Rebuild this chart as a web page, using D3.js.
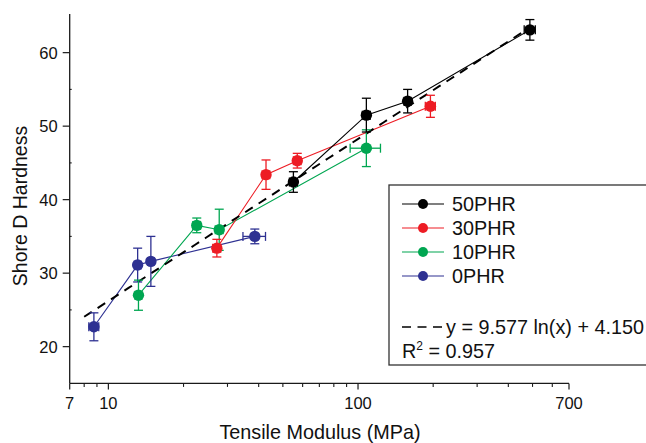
<!DOCTYPE html>
<html>
<head>
<meta charset="utf-8">
<script src="https://cdn.jsdelivr.net/npm/d3@7"></script>
<style>
    body { margin: 0; background: #fff; }
    svg { display: block; font-family: "Liberation Sans", Arial, sans-serif; }
</style>
</head>
<body>
<div id="chart"></div>
<script>
// Series names, in legend order
const seriesNames = ["50PHR", "30PHR", "10PHR", "0PHR"];
const seriesColors = ["#000000", "#ed1c24", "#00a651", "#2e3192"];

// Tensile modulus (MPa) for each series
const modulus50 = [55.1, 108, 158, 488];
const modulus30 = [27.2, 42.8, 57.1, 195];
const modulus10 = [13.2, 22.6, 27.8, 108];
const modulus0 = [8.75, 13.1, 14.8, 38.6];

// Shore D hardness for each series
const hardness50 = [42.4, 51.5, 53.4, 63.1];
const hardness30 = [33.4, 43.4, 45.3, 52.7];
const hardness10 = [27.0, 36.5, 35.9, 47.0];
const hardness0 = [22.7, 31.1, 31.6, 35.0];

// Error on hardness (y)
const hardnessErr50 = [1.4, 2.3, 1.6, 1.4];
const hardnessErr30 = [1.2, 2.0, 1.0, 1.5];
const hardnessErr10 = [2.05, 1.0, 2.8, 2.5];
const hardnessErr0 = [1.9, 2.3, 3.4, 1.0];

// Error on modulus (x)
const modulusErr50 = [2, 4, 5, 25];
const modulusErr30 = [1, 1.5, 2, 9];
const modulusErr10 = [0.4, 0.8, 1, 15];
const modulusErr0 = [0.4, 0.4, 0.4, 4];

// Logarithmic fit y = a ln(x) + b
const fitA = 9.577;
const fitB = 4.150;
const fitRange = [8, 480];
const fitLabel = "y = 9.577 ln(x) + 4.150";
const r2Value = "0.957";

// Axis ticks
const xTickLabels = [7, 10, 100, 700];
const xMinorTicks = [8, 9, 20, 30, 40, 50, 60, 70, 80, 90, 200, 300, 400, 500, 600];
const yTickLabels = [20, 30, 40, 50, 60];
const yMinorTicks = [25, 35, 45, 55];

const xTitle = "Tensile Modulus (MPa)";
const yTitle = "Shore D Hardness";

function buildSeries() {
    const xs = [modulus50, modulus30, modulus10, modulus0];
    const ys = [hardness50, hardness30, hardness10, hardness0];
    const yes = [hardnessErr50, hardnessErr30, hardnessErr10, hardnessErr0];
    const xes = [modulusErr50, modulusErr30, modulusErr10, modulusErr0];
    return seriesNames.map((name, i) => ({
        name: name,
        color: seriesColors[i],
        points: xs[i].map((x, j) => ({ x: x, y: ys[i][j], ye: yes[i][j], xe: xes[i][j] }))
    }));
}

function drawChart() {
    const width = 646;
    const height = 443;

    const svg = d3.select("#chart")
        .append("svg")
        .attr("width", width)
        .attr("height", height);

    // Scales
    const xScale = d3.scaleLog()
        .domain([7, 700])
        .range([69.7, 569]);

    const yScale = d3.scaleLinear()
        .domain([15, 65])
        .range([383.4, 15.9]);

    const axisColor = "#1a1a1a";
    const x0 = xScale.range()[0];
    const y0 = yScale.range()[0];

    // X axis line and ticks (outward)
    svg.append("line")
        .attr("x1", x0).attr("x2", xScale.range()[1])
        .attr("y1", y0).attr("y2", y0)
        .style("stroke", axisColor).style("stroke-width", 1.3);

    svg.selectAll(".x-major")
        .data(xTickLabels)
        .enter().append("line")
        .attr("x1", d => xScale(d)).attr("x2", d => xScale(d))
        .attr("y1", y0).attr("y2", y0 + 6)
        .style("stroke", axisColor).style("stroke-width", 1.2);

    svg.selectAll(".x-minor")
        .data(xMinorTicks)
        .enter().append("line")
        .attr("x1", d => xScale(d)).attr("x2", d => xScale(d))
        .attr("y1", y0).attr("y2", y0 + 3.5)
        .style("stroke", axisColor).style("stroke-width", 1.1);

    svg.selectAll(".x-label")
        .data(xTickLabels)
        .enter().append("text")
        .attr("x", d => xScale(d))
        .attr("y", 409)
        .attr("text-anchor", "middle")
        .style("font-size", "16.5px")
        .style("fill", "#111")
        .text(d => d);

    // Y axis line and ticks
    svg.append("line")
        .attr("x1", x0).attr("x2", x0)
        .attr("y1", y0).attr("y2", yScale.range()[1] - 2)
        .style("stroke", axisColor).style("stroke-width", 1.3);

    svg.selectAll(".y-major")
        .data(yTickLabels)
        .enter().append("line")
        .attr("x1", x0 - 7).attr("x2", x0)
        .attr("y1", d => yScale(d)).attr("y2", d => yScale(d))
        .style("stroke", axisColor).style("stroke-width", 1.2);

    svg.selectAll(".y-minor")
        .data(yMinorTicks)
        .enter().append("line")
        .attr("x1", x0).attr("x2", x0 + 2)
        .attr("y1", d => yScale(d)).attr("y2", d => yScale(d))
        .style("stroke", axisColor).style("stroke-width", 1.1);

    svg.selectAll(".y-label")
        .data(yTickLabels)
        .enter().append("text")
        .attr("x", x0 - 12)
        .attr("y", d => yScale(d) + 6)
        .attr("text-anchor", "end")
        .style("font-size", "16.5px")
        .style("fill", "#111")
        .text(d => d);

    // Axis titles
    svg.append("text")
        .attr("x", 320)
        .attr("y", 439)
        .attr("text-anchor", "middle")
        .style("font-size", "19.8px")
        .style("fill", "#111")
        .text(xTitle);

    svg.append("text")
        .attr("transform", "rotate(-90)")
        .attr("x", -206)
        .attr("y", 27)
        .attr("text-anchor", "middle")
        .style("font-size", "19.5px")
        .style("fill", "#111")
        .text(yTitle);

    const series = buildSeries();
    const drawOrder = series.slice().reverse();

    // Connecting lines
    const line = d3.line()
        .x(d => xScale(d.x))
        .y(d => yScale(d.y));

    drawOrder.forEach(s => {
        svg.append("path")
            .datum(s.points)
            .attr("d", line)
            .style("fill", "none")
            .style("stroke", s.color)
            .style("stroke-width", 1.1);
    });

    // Fit line (dashed)
    const fitX = d3.range(0, 41).map(i => fitRange[0] * Math.pow(fitRange[1] / fitRange[0], i / 40));
    svg.append("path")
        .datum(fitX)
        .attr("d", d3.line()
            .x(d => xScale(d))
            .y(d => yScale(fitA * Math.log(d) + fitB)))
        .style("fill", "none")
        .style("stroke", "#000")
        .style("stroke-width", 2)
        .style("stroke-dasharray", "9,7");

    // Error bars and markers
    const cap = 4.5;
    drawOrder.forEach(s => {
        const g = svg.append("g");
        s.points.forEach(p => {
            const cx = xScale(p.x);
            const cy = yScale(p.y);
            const yTop = yScale(p.y + p.ye);
            const yBot = yScale(p.y - p.ye);
            const xLeft = xScale(p.x - p.xe);
            const xRight = xScale(p.x + p.xe);

            // vertical error bar
            g.append("line")
                .attr("x1", cx).attr("x2", cx).attr("y1", yTop).attr("y2", yBot)
                .style("stroke", s.color).style("stroke-width", 1.3);
            [yTop, yBot].forEach(yy => {
                g.append("line")
                    .attr("x1", cx - cap).attr("x2", cx + cap).attr("y1", yy).attr("y2", yy)
                    .style("stroke", s.color).style("stroke-width", 1.3);
            });

            // horizontal error bar
            g.append("line")
                .attr("x1", xLeft).attr("x2", xRight).attr("y1", cy).attr("y2", cy)
                .style("stroke", s.color).style("stroke-width", 1.3);
            [xLeft, xRight].forEach(xx => {
                g.append("line")
                    .attr("x1", xx).attr("x2", xx).attr("y1", cy - cap).attr("y2", cy + cap)
                    .style("stroke", s.color).style("stroke-width", 1.3);
            });

            g.append("circle")
                .attr("cx", cx).attr("cy", cy).attr("r", 5.7)
                .style("fill", s.color);
        });
    });

    // Legend
    const legend = svg.append("g");
    legend.append("rect")
        .attr("x", 389).attr("y", 185)
        .attr("width", 300).attr("height", 180)
        .style("fill", "#fff")
        .style("stroke", "#333")
        .style("stroke-width", 1.3);

    series.forEach((s, i) => {
        const ly = 204 + i * 24;
        legend.append("line")
            .attr("x1", 402).attr("x2", 444).attr("y1", ly).attr("y2", ly)
            .style("stroke", s.color).style("stroke-width", 1.1);
        legend.append("circle")
            .attr("cx", 423).attr("cy", ly).attr("r", 5)
            .style("fill", s.color);
        legend.append("text")
            .attr("x", 452).attr("y", ly + 7)
            .style("font-size", "19.8px")
            .style("fill", "#111")
            .text(s.name);
    });

    legend.append("line")
        .attr("x1", 402).attr("x2", 442).attr("y1", 327).attr("y2", 327)
        .style("stroke", "#000").style("stroke-width", 1.6)
        .style("stroke-dasharray", "9,6.5");
    legend.append("text")
        .attr("x", 446).attr("y", 334)
        .style("font-size", "19.8px")
        .style("fill", "#111")
        .text(fitLabel);

    const r2 = legend.append("text")
        .attr("x", 402).attr("y", 358)
        .style("font-size", "19.8px")
        .style("fill", "#111");
    r2.append("tspan").text("R");
    r2.append("tspan").attr("dy", -8).style("font-size", "12px").text("2");
    r2.append("tspan").attr("dy", 8).text(" = " + r2Value);
}

drawChart();
</script>
</body>
</html>
